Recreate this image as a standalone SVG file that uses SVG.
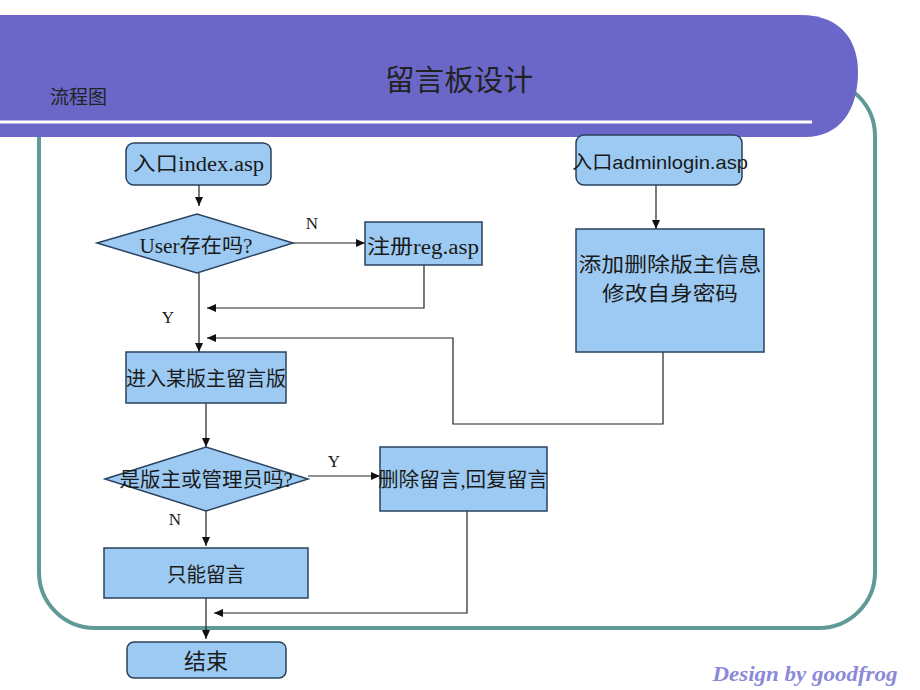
<svg xmlns="http://www.w3.org/2000/svg" width="920" height="690" viewBox="0 0 920 690">
<defs>
<marker id="arr" markerUnits="userSpaceOnUse" markerWidth="9" markerHeight="8" refX="9" refY="4" orient="auto"><path d="M0,0 L9,4 L0,8 Z" fill="#111"/></marker>
<style>
.box{fill:#9dcaf2;stroke:#2a425e;stroke-width:1.5}
.t{font-family:"Liberation Serif","Noto Sans CJK SC",serif;font-size:20px;fill:#1a1a1a;text-anchor:middle}
.lbl{font-family:"Liberation Serif",serif;font-size:17px;fill:#1a1a1a;text-anchor:middle}
.c{fill:none;stroke:#222;stroke-width:1.2;marker-end:url(#arr)}
.m{font-family:"Noto Sans CJK SC",sans-serif;font-size:20px;fill:#1a1a1a;text-anchor:middle}
</style>
</defs>
<rect width="920" height="690" fill="#fff"/>
<rect id="frame" x="39" y="80" width="836" height="548" rx="56" fill="none" stroke="#5f9a96" stroke-width="4"/>
<g id="header">
<path d="M0,15 H800 C845,15 858,45 858,72 C858,110 840,137 805,137 H0 Z" fill="#6a67c9"/>
<line x1="0" y1="122" x2="812" y2="122" stroke="#fff" stroke-width="3"/>
<text x="459" y="91" textLength="148" lengthAdjust="spacingAndGlyphs" style="font-family:'Noto Sans CJK SC',sans-serif;font-size:29px;fill:#222;text-anchor:middle">留言板设计</text>
<text x="50" y="104" style="font-family:'Noto Sans CJK SC',sans-serif;font-size:19px;fill:#222">流程图</text>
</g>
<g id="connectors">
<path class="c" d="M199,185 V206"/>
<path class="c" d="M293,243 H365"/>
<path class="c" d="M199,273 V352"/>
<path class="c" d="M424,265 V308 H207"/>
<path class="c" d="M663,352 V424 H453 V338 H207"/>
<path class="c" d="M656,185 V229"/>
<path class="c" d="M206,403 V447"/>
<path class="c" d="M308,476 H380"/>
<path class="c" d="M206,511 V546"/>
<path class="c" d="M206,598 V639"/>
<path class="c" d="M467,511 V613 H214"/>
<text class="lbl" x="312" y="229">N</text>
<text class="lbl" x="168" y="323">Y</text>
<text class="lbl" x="334" y="467">Y</text>
<text class="lbl" x="175" y="525">N</text>
</g>
<g id="n-index">
<rect class="box" x="126" y="143" width="145" height="42" rx="8"/>
<text class="t" x="198.5" y="171" textLength="131" lengthAdjust="spacingAndGlyphs">入口index.asp</text>
</g>
<g id="n-user">
<polygon class="box" points="97,243 197,214 293,243 197,273"/>
<text class="t" x="196" y="253" textLength="113" lengthAdjust="spacingAndGlyphs">User存在吗?</text>
</g>
<g id="n-reg">
<rect class="box" x="365" y="222" width="117" height="43"/>
<text class="t" x="423" y="254" textLength="112" lengthAdjust="spacingAndGlyphs">注册reg.asp</text>
</g>
<g id="n-enter">
<rect class="box" x="126" y="352" width="160" height="51"/>
<text class="t" x="206" y="386" textLength="160" lengthAdjust="spacingAndGlyphs">进入某版主留言版</text>
</g>
<g id="n-check">
<polygon class="box" points="105,479 206,447 308,479 206,511"/>
<text class="t" x="206" y="487" textLength="173" lengthAdjust="spacingAndGlyphs">是版主或管理员吗?</text>
</g>
<g id="n-del">
<rect class="box" x="380" y="447" width="167" height="64"/>
<text class="t" x="463" y="487" textLength="170" lengthAdjust="spacingAndGlyphs">删除留言,回复留言</text>
</g>
<g id="n-only">
<rect class="box" x="104" y="548" width="204" height="50"/>
<text class="t" x="206" y="582" textLength="78" lengthAdjust="spacingAndGlyphs">只能留言</text>
</g>
<g id="n-end">
<rect class="box" x="127" y="642" width="159" height="36" rx="7"/>
<text class="t" x="206" y="669" style="font-size:22px">结束</text>
</g>
<g id="n-admin">
<rect class="box" x="576" y="135" width="166" height="50" rx="8"/>
<text x="660" y="169" textLength="176" lengthAdjust="spacingAndGlyphs" style="font-family:'Liberation Sans','Noto Sans CJK SC',sans-serif;font-size:19px;fill:#1a1a1a;text-anchor:middle">入口adminlogin.asp</text>
</g>
<g id="n-manage">
<rect class="box" x="576" y="229" width="188" height="123"/>
<text class="m" x="670" y="272" textLength="183" lengthAdjust="spacingAndGlyphs">添加删除版主信息</text>
<text class="m" x="670" y="301" textLength="136" lengthAdjust="spacingAndGlyphs">修改自身密码</text>
</g>
<text x="805" y="681" textLength="185" lengthAdjust="spacingAndGlyphs" style="font-family:'Liberation Serif',serif;font-size:22px;font-style:italic;font-weight:bold;fill:#8c8ad8;text-anchor:middle">Design by goodfrog</text>
</svg>
